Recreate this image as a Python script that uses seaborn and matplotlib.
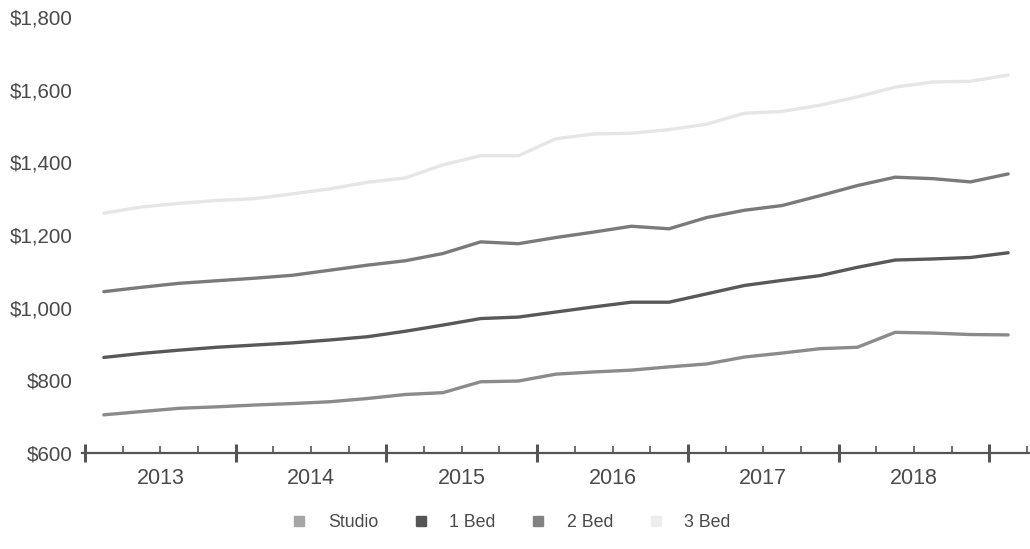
import numpy as np
import pandas as pd
import matplotlib
matplotlib.use("Agg")
import matplotlib.pyplot as plt
from matplotlib.lines import Line2D
from matplotlib.ticker import FixedLocator, FuncFormatter
import seaborn as sns

# Quarterly average rents, Q1 2013 through Q1 2019 (quarter midpoints)
quarters = [2013.125 + 0.25 * i for i in range(25)]
studio = [705, 714, 723, 727, 732, 736, 741, 750, 761, 766, 796, 798, 817,
          823, 828, 837, 845, 864, 875, 887, 891, 932, 930, 926, 925]
one_bed = [863, 874, 883, 891, 897, 903, 911, 920, 935, 952, 970, 974, 988,
           1002, 1015, 1015, 1038, 1061, 1075, 1088, 1111, 1131, 1134, 1138, 1151]
two_bed = [1044, 1056, 1067, 1074, 1081, 1089, 1103, 1117, 1129, 1149, 1181,
           1176, 1193, 1208, 1224, 1217, 1248, 1268, 1281, 1308, 1336, 1359,
           1355, 1346, 1368]
three_bed = [1260, 1277, 1287, 1295, 1300, 1313, 1327, 1345, 1357, 1393, 1418,
             1418, 1465, 1478, 1480, 1490, 1505, 1535, 1540, 1557, 1580, 1607,
             1621, 1623, 1640]

unit_types = ["Studio", "1 Bed", "2 Bed", "3 Bed"]
years = [2013, 2014, 2015, 2016, 2017, 2018, 2019]
y_ticks = [600, 800, 1000, 1200, 1400, 1600, 1800]

line_colors = {"Studio": "#8b8b8b", "1 Bed": "#585858",
               "2 Bed": "#7a7a7a", "3 Bed": "#e6e6e6"}
legend_colors = {"Studio": "#a6a6a6", "1 Bed": "#555555",
                 "2 Bed": "#828282", "3 Bed": "#ededed"}
text_color = "#4a4a4a"

frames = []
for name, vals in zip(unit_types, [studio, one_bed, two_bed, three_bed]):
    frames.append(pd.DataFrame({"quarter": quarters, "rent": vals, "unit": name}))
df = pd.concat(frames, ignore_index=True)

sns.set_theme(style="white")
plt.rcParams["font.family"] = ["Liberation Sans", "DejaVu Sans"]

fig = plt.figure(figsize=(10.30, 5.49), dpi=100)
ax = fig.add_axes([0.0796, 0.1749, 0.9204, 0.7942])

sns.lineplot(data=df, x="quarter", y="rent", hue="unit", hue_order=unit_types,
             palette=line_colors, linewidth=2.4, legend=False, ax=ax)

ax.set_xlim(2012.98, 2019.27)
ax.set_ylim(600, 1800)
ax.set_xlabel("")
ax.set_ylabel("")

for side in ["left", "right", "top"]:
    ax.spines[side].set_visible(False)
ax.spines["bottom"].set_color("#555555")
ax.spines["bottom"].set_linewidth(1.6)

# Y axis: dollar labels, no tick marks
ax.yaxis.set_major_locator(FixedLocator(y_ticks))
ax.yaxis.set_major_formatter(FuncFormatter(lambda v, p: f"${v:,.0f}"))
ax.tick_params(axis="y", length=0, pad=7, labelsize=14.8, labelcolor=text_color)

# X axis: heavy ticks at year boundaries, quarter ticks, year label mid-year
ax.xaxis.set_major_locator(FixedLocator(years))
ax.xaxis.set_major_formatter(FuncFormatter(lambda v, p: ""))
minor_pos = [y + q for y in years[:-1] for q in (0.25, 0.5, 0.75)] + [2019.25]
ax.xaxis.set_minor_locator(FixedLocator(minor_pos))


def minor_label(v, p):
    if abs(v - round(v - 0.5) - 0.5) < 1e-6:
        return f"{int(v - 0.5)}"
    return ""


ax.xaxis.set_minor_formatter(FuncFormatter(minor_label))
ax.tick_params(axis="x", which="major", direction="inout", length=13,
               width=2.2, color="#555555", bottom=True)
ax.tick_params(axis="x", which="minor", direction="in", length=5,
               width=1.2, color="#555555", pad=11, labelsize=15.5,
               labelcolor=text_color, bottom=True)
ax.grid(False)

handles = [Line2D([], [], linestyle="none", marker="s", markersize=7.5,
                  markerfacecolor=legend_colors[u], markeredgecolor=legend_colors[u])
           for u in unit_types]
leg = fig.legend(handles, unit_types, loc="center", bbox_to_anchor=(0.4956, 0.048),
                 ncol=4, frameon=False, fontsize=12.8, handletextpad=1.1,
                 columnspacing=1.9, handlelength=1.0)
for t in leg.get_texts():
    t.set_color(text_color)

fig.savefig("out.png", dpi=100, facecolor="white")
